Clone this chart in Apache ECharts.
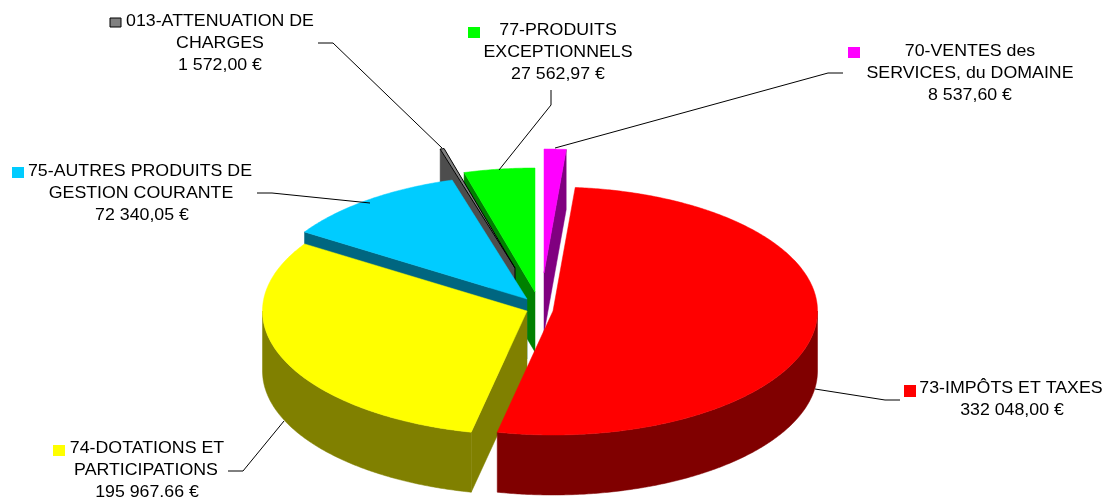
<!DOCTYPE html>
<html><head><meta charset="utf-8">
<style>html,body{margin:0;padding:0;background:#fff}#c{width:1105px;height:497px}</style>
<script src="https://cdn.jsdelivr.net/npm/echarts@6/dist/echarts.min.js"></script>
</head><body><div id="c"></div>
<script>
// Data, clockwise from 12 o'clock
const nameLines = [
  ['70-VENTES des','SERVICES, du DOMAINE'],
  ['73-IMPÔTS ET TAXES'],
  ['74-DOTATIONS ET','PARTICIPATIONS'],
  ['75-AUTRES PRODUITS DE','GESTION COURANTE'],
  ['013-ATTENUATION DE','CHARGES'],
  ['77-PRODUITS','EXCEPTIONNELS']
];
const amounts = [8537.60, 332048.00, 195967.66, 72340.05, 1572.00, 27562.97];

// Styles and layout
const topColors  = ['#FF00FF','#FF0000','#FFFF00','#00CCFF','#808080','#00FF00'];
const sideColors = ['#800080','#800000','#808000','#006680','#4D4D4D','#008000'];
const keyColors  = ['#FF00FF','#FF0000','#FFFF00','#00CCFF','#808080','#00FF00'];
const drawRank   = [0,5,4,3,2,1]; // painter's order, back to front
const centersX   = [544,553,527,527,515,535];
const centersY   = [273,311,311,299,268,292];
const RX = 264.5, RY = 124, DEPTH = 60;
const lineCentersX = [[970,970,970],[1011,1012],[147,146,147],[140,141,142],[220,220,220],[558,558,558]];
const firstLineY = [51,388,448,171,21,30];
const LINE_H = 22;
const keyBoxes = [[848,47,12,11],[904,385,12,12],[53,445,12,11],[12,167,12,11],[110,18,11,9],[468,27,12,11]];
const leaders = [
  [[555,148],[828,73],[843,73]],
  [[815,389],[885,400],[900,400]],
  [[284,421],[243,471],[228,471]],
  [[370,203],[272,193],[257,193]],
  [[442,148],[333,43],[318,43]],
  [[499,170],[551,105],[551,90]]
];
const FONT = '17px "Liberation Sans", Arial, sans-serif';
const TEXT_STRETCH = 1.045;

const total = amounts.reduce((a,b)=>a+b,0);
const starts = []; { let acc = 0; amounts.forEach(v=>{ starts.push(acc/total*360); acc += v; }); }

function fmt(v){
  const [i,d] = v.toFixed(2).split('.');
  return i.replace(/\B(?=(\d{3})+$)/g,' ') + ',' + d + ' €';
}
function pt(cx,cy,deg){
  const r = deg*Math.PI/180;
  return [cx+RX*Math.sin(r), cy-RY*Math.cos(r)];
}
function arc(cx,cy,a0,a1){
  const out=[]; const n=Math.max(2,Math.ceil((a1-a0)/0.5));
  for(let k=0;k<=n;k++) out.push(pt(cx,cy,a0+(a1-a0)*k/n));
  return out;
}
function down(p){ return [p[0],p[1]+DEPTH]; }

function renderItem(params, api){
  const i = params.dataIndex, v = api.value(0);
  const a0 = starts[i], a1 = a0 + v/total*360;
  const cx = centersX[i], cy = centersY[i];
  const z = drawRank[i]*10;
  const kids = [];
  const poly = (points,fill,zz,stroke)=>kids.push({type:'polygon',z2:zz,shape:{points},
    style:{fill,stroke:stroke||fill,lineWidth:stroke?1:0.5}});
  const c = [cx,cy], s0 = pt(cx,cy,a0), s1 = pt(cx,cy,a1);
  if(a0 >= 180) poly([c,s0,down(s0),down(c)], sideColors[i], z);
  if(a1 <= 90) poly([c,s1,down(s1),down(c)], sideColors[i], z);
  const lo = Math.max(a0,90), hi = Math.min(a1,270);
  if(hi>lo){
    const top = arc(cx,cy,lo,hi);
    poly(top.concat(top.slice().reverse().map(down)), sideColors[i], z+1);
  }
  poly([c].concat(arc(cx,cy,a0,a1)), topColors[i], z+2, i===4?'#000':null);
  if(i===4) kids.push({type:'polyline',z2:z+3,shape:{points:[c,down(c)]},style:{fill:null,stroke:'#000',lineWidth:1}});
  kids.push({type:'polyline',z2:1000,shape:{points:leaders[i]},style:{fill:null,stroke:'#000',lineWidth:1}});
  const kb = keyBoxes[i];
  kids.push({type:'rect',z2:1000,shape:{x:kb[0],y:kb[1],width:kb[2],height:kb[3]},
    style:{fill:keyColors[i],stroke:i===4?'#000':null,lineWidth:1}});
  nameLines[i].concat([fmt(v)]).forEach((t,l)=>{
    kids.push({type:'text',z2:1001,x:lineCentersX[i][l],y:firstLineY[i]+l*LINE_H,scaleX:TEXT_STRETCH,
      style:{text:t,x:0,y:0,align:'center',verticalAlign:'middle',font:FONT,fill:'#000'}});
  });
  return {type:'group',children:kids};
}

const chart = echarts.init(document.getElementById('c'),null,{renderer:'canvas'});
chart.setOption({
  animation:false,
  backgroundColor:'#fff',
  series:[{type:'custom',coordinateSystem:'none',silent:true,
    data:amounts.map((v,i)=>({name:nameLines[i].join(' '),value:[v]})),
    encode:{value:0},
    renderItem}]
});
</script></body></html>
